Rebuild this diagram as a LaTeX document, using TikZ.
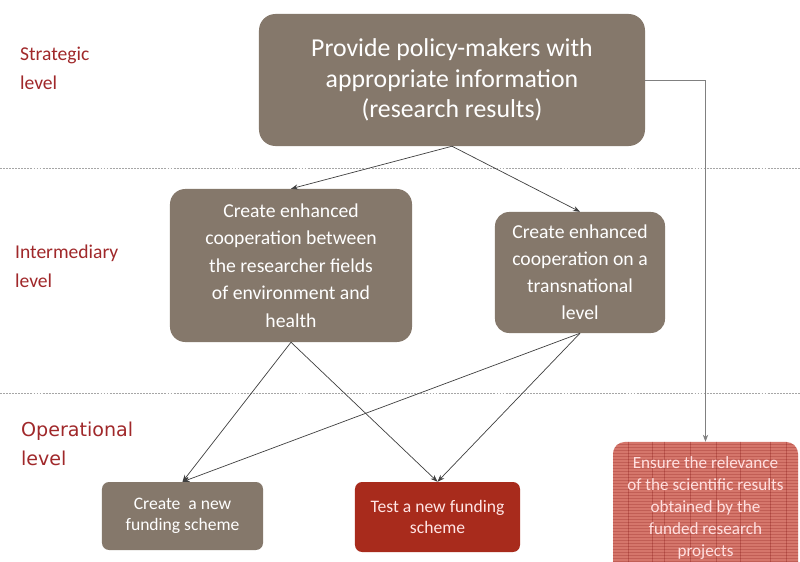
\documentclass[tikz,border=0pt]{standalone}
\usepackage{fontspec}
\setmainfont{Carlito}
\newfontfamily\opfont{DejaVu Sans}
\usetikzlibrary{arrows.meta}
\definecolor{taupe}{HTML}{85786B}
\definecolor{brick}{HTML}{A82B1C}
\definecolor{salmon}{HTML}{D5766B}
\definecolor{levelred}{HTML}{A0282A}
\tikzset{
  goal/.style={fill=taupe,text=white,rounded corners=8pt,inner sep=0pt,align=center},
  lvl/.style={anchor=west,align=left,text=levelred,font=\fontsize{16.7}{25}\selectfont},
  link/.style={draw=black!75,line width=0.6pt,-{Stealth[length=6pt,width=4.5pt]}},
  sep/.style={draw=black!35,line width=0.7pt,dash pattern=on 1.6pt off 1pt}
}

\begin{document}
\begin{tikzpicture}[x=0.03cm,y=-0.03cm]
\clip (0,0) rectangle (800,562);
\fill[white] (0,0) rectangle (800,562);
\foreach \y in {168,393}{\draw[sep] (0,\y)--(800,\y);}
\node[lvl] (strat) at (16,68) {Strategic\\level};
\node[lvl] (inter) at (11,266) {Intermediary\\level};
\node[lvl,font=\opfont\fontsize{16.3}{25}\selectfont] (oper) at (17,444) {Operational\\level};
\node[goal,rounded corners=14pt,minimum width=11.58cm,minimum height=3.96cm,font=\fontsize{22}{26}\selectfont] (top) at (452,80) {Provide policy-makers with\\appropriate information\\(research results)};
\node[goal,rounded corners=13pt,minimum width=7.26cm,minimum height=4.59cm,font=\fontsize{16.8}{23.4}\selectfont] (coop) at (291,265.5) {Create enhanced\\cooperation between\\the researcher fields\\of environment and\\health};
\node[goal,rounded corners=12pt,minimum width=5.1cm,minimum height=3.63cm,font=\fontsize{16.8}{23}\selectfont] (trans) at (580,272.5) {Create enhanced\\cooperation on a\\transnational\\level};
\node[goal,rounded corners=6pt,minimum width=4.83cm,minimum height=2.04cm,font=\fontsize{15}{18.4}\selectfont] (newfund) at (182.5,516) {Create\ \ a new\\funding scheme};
\node[goal,fill=brick,text=red!10!white,rounded corners=6pt,minimum width=4.95cm,minimum height=2.1cm,font=\fontsize{15}{18.4}\selectfont] (testfund) at (437.5,517) {Test a new funding\\scheme};
\node[goal,fill=salmon,text=red!12!white,rounded corners=10pt,minimum width=5.55cm,minimum height=3.96cm] (relevance) at (705.5,508) {};
\begin{scope}
\clip[rounded corners=10pt] (relevance.south west) rectangle (relevance.north east);
\foreach \y in {444,447,...,576}{\draw[red!45!black,opacity=0.2,line width=0.4pt] (612,\y)--(800,\y);}
\foreach \x in {628,652,664,690,716,740,770,786}{\draw[red!45!black,opacity=0.25,line width=0.5pt] (\x,440)--(\x,576);}
\end{scope}
\node[align=center,text=red!12!white,font=\fontsize{14.6}{18.6}\selectfont] (relevancetxt) at (relevance.center) {Ensure the relevance\\of the scientific results\\obtained by the\\funded research\\projects};
\draw[link] (top.south)--(coop.north);
\draw[link] (top.south)--(trans.north);
\foreach \src in {coop,trans}{\foreach \dst in {newfund,testfund}{\draw[link] (\src.south)--(\dst.north);}}
\draw[link,draw=black!50] (top.east)-|(relevance.north);
\end{tikzpicture}
\end{document}
